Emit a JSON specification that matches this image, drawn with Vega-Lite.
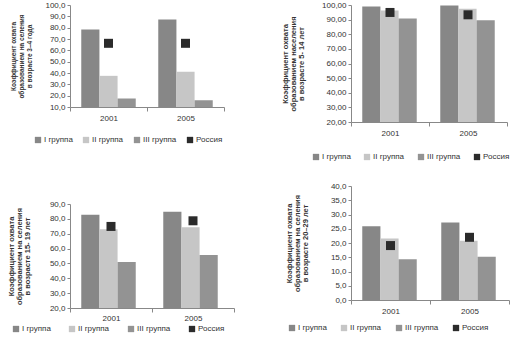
{
  "$schema": "https://vega.github.io/schema/vega-lite/v6.json",
  "padding": {"left": 7, "top": 1, "right": 0, "bottom": 0},
  "background": "white",
  "datasets": {
    "p1": [
      {"year": "2001", "group": "I группа", "value": 78.3},
      {"year": "2001", "group": "II группа", "value": 37.5},
      {"year": "2001", "group": "III группа", "value": 17.6},
      {"year": "2001", "group": "Россия", "value": 66.2},
      {"year": "2005", "group": "I группа", "value": 87.3},
      {"year": "2005", "group": "II группа", "value": 41.1},
      {"year": "2005", "group": "III группа", "value": 16.0},
      {"year": "2005", "group": "Россия", "value": 66.2}
    ],
    "p2": [
      {"year": "2001", "group": "I группа", "value": 98.9},
      {"year": "2001", "group": "II группа", "value": 96.2},
      {"year": "2001", "group": "III группа", "value": 90.8},
      {"year": "2001", "group": "Россия", "value": 94.9},
      {"year": "2005", "group": "I группа", "value": 99.6},
      {"year": "2005", "group": "II группа", "value": 97.5},
      {"year": "2005", "group": "III группа", "value": 89.5},
      {"year": "2005", "group": "Россия", "value": 93.3}
    ],
    "p3": [
      {"year": "2001", "group": "I группа", "value": 82.8},
      {"year": "2001", "group": "II группа", "value": 73.0},
      {"year": "2001", "group": "III группа", "value": 51.0},
      {"year": "2001", "group": "Россия", "value": 74.9},
      {"year": "2005", "group": "I группа", "value": 84.8},
      {"year": "2005", "group": "II группа", "value": 74.4},
      {"year": "2005", "group": "III группа", "value": 55.7},
      {"year": "2005", "group": "Россия", "value": 78.7}
    ],
    "p4": [
      {"year": "2001", "group": "I группа", "value": 25.9},
      {"year": "2001", "group": "II группа", "value": 21.6},
      {"year": "2001", "group": "III группа", "value": 14.3},
      {"year": "2001", "group": "Россия", "value": 19.1},
      {"year": "2005", "group": "I группа", "value": 27.2},
      {"year": "2005", "group": "II группа", "value": 20.8},
      {"year": "2005", "group": "III группа", "value": 15.2},
      {"year": "2005", "group": "Россия", "value": 22.0}
    ]
  },
  "hconcat": [
    {
      "vconcat": [
        {
          "width": 154, "height": 102,
          "data": {"name": "p1"},
          "encoding": {
            "x": {"field": "year", "type": "nominal", "title": null,
              "scale": {"paddingInner": 0, "paddingOuter": 0},
              "axis": {"labelAngle": 0, "tickBand": "extent", "tickSize": 4, "labelPadding": 3}},
            "y": {"field": "value", "type": "quantitative",
              "scale": {"domain": [10, 100], "zero": false, "nice": false},
              "axis": {"values": [10, 20, 30, 40, 50, 60, 70, 80, 90, 100],
                "labelExpr": "replace(format(datum.value, '.1f'), '.', ',')",
                "titlePadding": 12, "titleFontSize": 6.5,
                "title": ["Коэффициент охвата", "образованием на селения", "в возрасте 3–4 года"]}},
            "color": {"field": "group", "type": "nominal",
              "scale": {"domain": ["I группа", "II группа", "III группа", "Россия"], "range": ["#878787", "#c6c6c6", "#939393", "#2b2b2b"]},
              "legend": {"title": null, "orient": "none", "direction": "horizontal", "legendX": -36, "legendY": 131, "symbolType": "square", "symbolSize": 40, "columnPadding": 9, "labelFontSize": 8, "labelColor": "#333", "labelOffset": 2, "padding": 0}}
          },
          "layer": [
            {"mark": {"type": "bar", "clip": true},
              "transform": [{"filter": "datum.group != 'Россия'"}],
              "encoding": {"xOffset": {"field": "group", "sort": ["I группа", "II группа", "III группа"], "scale": {"paddingInner": 0, "paddingOuter": 0.62}}}},
            {"mark": {"type": "square", "size": 81, "opacity": 1, "filled": true},
              "transform": [{"filter": "datum.group == 'Россия'"}]}
          ]
        },
        {
          "width": 164, "height": 104,
          "data": {"name": "p3"},
          "encoding": {
            "x": {"field": "year", "type": "nominal", "title": null,
              "scale": {"paddingInner": 0, "paddingOuter": 0},
              "axis": {"labelAngle": 0, "tickBand": "extent", "tickSize": 4, "labelPadding": 2}},
            "y": {"field": "value", "type": "quantitative",
              "scale": {"domain": [20, 90], "zero": false, "nice": false},
              "axis": {"values": [20, 30, 40, 50, 60, 70, 80, 90],
                "labelExpr": "replace(format(datum.value, '.1f'), '.', ',')",
                "titlePadding": 18,
                "title": ["Коэффициент охвата", "образованием на селения", "в возрасте 15- 19 лет"]}},
            "color": {"field": "group", "type": "nominal",
              "scale": {"domain": ["I группа", "II группа", "III группа", "Россия"], "range": ["#878787", "#c6c6c6", "#939393", "#2b2b2b"]},
              "legend": {"title": null, "orient": "none", "direction": "horizontal", "legendX": -58, "legendY": 121, "symbolType": "square", "symbolSize": 40, "columnPadding": 17, "labelFontSize": 8, "labelColor": "#333", "labelOffset": 2, "padding": 0}}
          },
          "layer": [
            {"mark": {"type": "bar", "clip": true},
              "transform": [{"filter": "datum.group != 'Россия'"}],
              "encoding": {"xOffset": {"field": "group", "sort": ["I группа", "II группа", "III группа"], "scale": {"paddingInner": 0, "paddingOuter": 0.72}}}},
            {"mark": {"type": "square", "size": 81, "opacity": 1, "filled": true},
              "transform": [{"filter": "datum.group == 'Россия'"}]}
          ]
        }
      ],
      "spacing": 56,
      "resolve": {"scale": {"color": "independent"}, "legend": {"color": "independent"}}
    },
    {
      "vconcat": [
        {
          "width": 156, "height": 117,
          "data": {"name": "p2"},
          "encoding": {
            "x": {"field": "year", "type": "nominal", "title": null,
              "scale": {"paddingInner": 0, "paddingOuter": 0},
              "axis": {"labelAngle": 0, "tickBand": "extent", "tickSize": 4, "labelPadding": 3}},
            "y": {"field": "value", "type": "quantitative",
              "scale": {"domain": [20, 100], "zero": false, "nice": false},
              "axis": {"values": [20, 30, 40, 50, 60, 70, 80, 90, 100],
                "labelExpr": "replace(format(datum.value, '.2f'), '.', ',')",
                "titlePadding": 16,
                "title": ["Коэффициент охвата", "образованием населения", "в возрасте 5- 14 лет"]}},
            "color": {"field": "group", "type": "nominal",
              "scale": {"domain": ["I группа", "II группа", "III группа", "Россия"], "range": ["#878787", "#c6c6c6", "#939393", "#2b2b2b"]},
              "legend": {"title": null, "orient": "none", "direction": "horizontal", "legendX": -39, "legendY": 148, "symbolType": "square", "symbolSize": 40, "columnPadding": 12, "labelFontSize": 8, "labelColor": "#333", "labelOffset": 2, "padding": 0}}
          },
          "layer": [
            {"mark": {"type": "bar", "clip": true},
              "transform": [{"filter": "datum.group != 'Россия'"}],
              "encoding": {"xOffset": {"field": "group", "sort": ["I группа", "II группа", "III группа"], "scale": {"paddingInner": 0, "paddingOuter": 0.7}}}},
            {"mark": {"type": "square", "size": 81, "opacity": 1, "filled": true},
              "transform": [{"filter": "datum.group == 'Россия'"}]}
          ]
        },
        {
          "width": 158, "height": 114,
          "data": {"name": "p4"},
          "encoding": {
            "x": {"field": "year", "type": "nominal", "title": null,
              "scale": {"paddingInner": 0, "paddingOuter": 0},
              "axis": {"labelAngle": 0, "tickBand": "extent", "tickSize": 4, "labelPadding": 3}},
            "y": {"field": "value", "type": "quantitative",
              "scale": {"domain": [0, 40], "nice": false},
              "axis": {"values": [0, 5, 10, 15, 20, 25, 30, 35, 40],
                "labelExpr": "replace(format(datum.value, '.1f'), '.', ',')",
                "titlePadding": 21,
                "title": ["Коэффициент охвата", "образованием на селения", "в возрасте 20–29 лет"]}},
            "color": {"field": "group", "type": "nominal",
              "scale": {"domain": ["I группа", "II группа", "III группа", "Россия"], "range": ["#878787", "#c6c6c6", "#939393", "#2b2b2b"]},
              "legend": {"title": null, "orient": "none", "direction": "horizontal", "legendX": -63, "legendY": 138, "symbolType": "square", "symbolSize": 40, "columnPadding": 13, "labelFontSize": 8, "labelColor": "#333", "labelOffset": 2, "padding": 0}}
          },
          "layer": [
            {"mark": {"type": "bar", "clip": true},
              "transform": [{"filter": "datum.group != 'Россия'"}],
              "encoding": {"xOffset": {"field": "group", "sort": ["I группа", "II группа", "III группа"], "scale": {"paddingInner": 0, "paddingOuter": 0.6}}}},
            {"mark": {"type": "square", "size": 81, "opacity": 1, "filled": true},
              "transform": [{"filter": "datum.group == 'Россия'"}]}
          ]
        }
      ],
      "spacing": 21,
      "resolve": {"scale": {"color": "independent"}, "legend": {"color": "independent"}}
    }
  ],
  "spacing": 46,
  "resolve": {"scale": {"color": "independent"}, "legend": {"color": "independent"}},
  "config": {
    "view": {"stroke": null},
    "font": "Liberation Sans",
    "axis": {
      "labelFont": "Liberation Sans", "labelFontSize": 8, "labelColor": "#333",
      "domainColor": "#888", "tickColor": "#888", "tickSize": 3, "grid": false,
      "labelPadding": 2,
      "titleFont": "Liberation Sans", "titleFontSize": 7.5, "titleFontWeight": "bold",
      "titleColor": "#333", "titleLineHeight": 8
    },
    "legend": {"labelFont": "Liberation Sans"}
  }
}
